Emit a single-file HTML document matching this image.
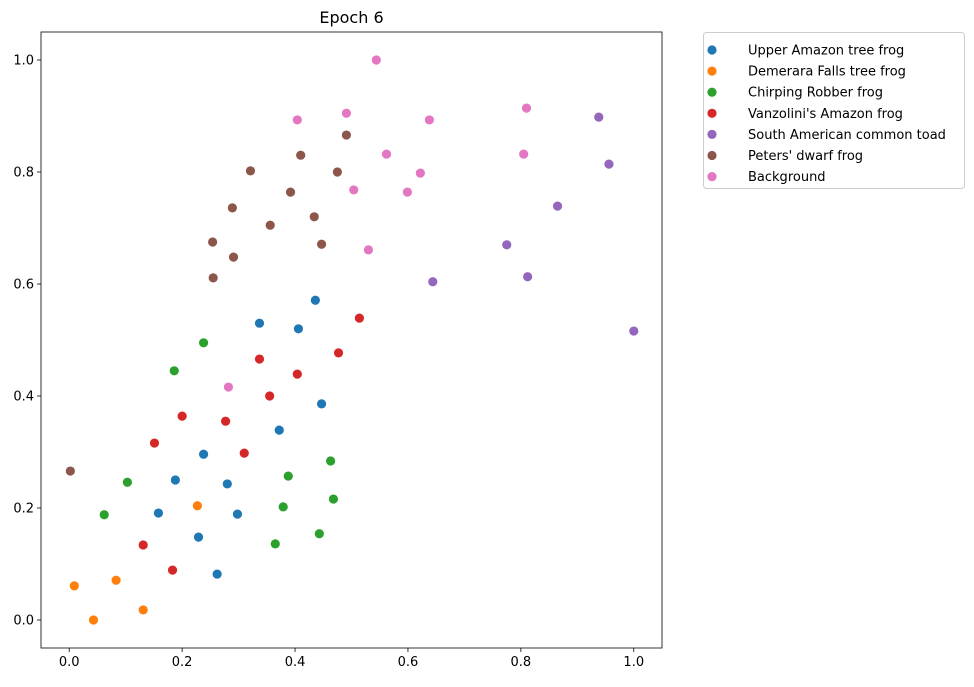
<!DOCTYPE html>
<html><head><meta charset="utf-8"><style>
body{margin:0;background:#fff;}
svg text{font-family:"DejaVu Sans","Liberation Sans",sans-serif;}
</style></head><body>
<svg id="chart" width="974" height="682" xmlns="http://www.w3.org/2000/svg"></svg>
<script>
const seriesNames=["Upper Amazon tree frog","Demerara Falls tree frog","Chirping Robber frog","Vanzolini's Amazon frog","South American common toad","Peters' dwarf frog","Background"];
const colors=["#1f77b4","#ff7f0e","#2ca02c","#d62728","#9467bd","#8c564b","#e377c2"];
const xTicks=[0,0.2,0.4,0.6,0.8,1.0];
const yTicks=[0,0.2,0.4,0.6,0.8,1.0];
const s0x=[0.337,0.436,0.406,0.447,0.372,0.238,0.188,0.280,0.158,0.298,0.229,0.262];
const s0y=[0.530,0.571,0.520,0.386,0.339,0.296,0.250,0.243,0.191,0.189,0.148,0.082];
const s1x=[0.227,0.009,0.083,0.043,0.131];
const s1y=[0.204,0.061,0.071,0.0,0.018];
const s2x=[0.238,0.186,0.103,0.062,0.388,0.463,0.468,0.379,0.365,0.443];
const s2y=[0.495,0.445,0.246,0.188,0.257,0.284,0.216,0.202,0.136,0.154];
const s3x=[0.514,0.477,0.337,0.404,0.200,0.355,0.277,0.151,0.310,0.131,0.183];
const s3y=[0.539,0.477,0.466,0.439,0.364,0.400,0.355,0.316,0.298,0.134,0.089];
const s4x=[0.938,0.956,0.865,0.775,0.812,0.644,1.0];
const s4y=[0.898,0.814,0.739,0.670,0.613,0.604,0.516];
const s5x=[0.491,0.410,0.321,0.475,0.392,0.289,0.434,0.356,0.254,0.447,0.291,0.255,0.002];
const s5y=[0.866,0.830,0.802,0.800,0.764,0.736,0.720,0.705,0.675,0.671,0.648,0.611,0.266];
const s6x=[0.544,0.404,0.491,0.810,0.638,0.562,0.805,0.622,0.504,0.599,0.530,0.282];
const s6y=[1.0,0.893,0.905,0.914,0.893,0.832,0.832,0.798,0.768,0.764,0.661,0.416];
const XS=[s0x,s1x,s2x,s3x,s4x,s5x,s6x], YS=[s0y,s1y,s2y,s3y,s4y,s5y,s6y];

const svg=document.getElementById('chart');
const NS="http://www.w3.org/2000/svg";
const L=41,R=662,T=32,B=648,xmin=-0.05,xmax=1.05,ymin=-0.05,ymax=1.05;
const sx=v=>L+(v-xmin)/(xmax-xmin)*(R-L);
const sy=v=>B-(v-ymin)/(ymax-ymin)*(B-T);
function mk(tag,attrs){const e=document.createElementNS(NS,tag);for(const k in attrs)e.setAttribute(k,attrs[k]);svg.appendChild(e);return e;}

const title=mk('text',{x:(L+R)/2,y:23,'text-anchor':'middle','font-size':16,fill:'#000'});
title.textContent='Epoch 6';



xTicks.forEach(t=>{
  const l=mk('line',{x1:sx(t),x2:sx(t),y1:B,y2:B+4,stroke:'#000','stroke-width':0.8});
  
  
  const tx=mk('text',{x:sx(t),y:B+18,'text-anchor':'middle','font-size':13,fill:'#000'});
  tx.textContent=t.toFixed(1);
  
  
});
yTicks.forEach(t=>{
  const l=mk('line',{x1:L-4,x2:L,y1:sy(t),y2:sy(t),stroke:'#000','stroke-width':0.8});
  
  
  const tx=mk('text',{x:L-7,y:sy(t)+4.5,'text-anchor':'end','font-size':13,fill:'#000'});
  tx.textContent=t.toFixed(1);
  
  
});

XS.forEach((xs,i)=>{
  xs.forEach((x,j)=>{
    const c=mk('circle',{cx:sx(x),cy:sy(YS[i][j]),r:4.6,fill:colors[i]});
    
    
  });
});

const frame=mk('rect',{x:L,y:T,width:R-L,height:B-T,fill:'none',stroke:'#000','stroke-width':0.8});



const lg=mk('rect',{x:703.5,y:32.5,width:261,height:156,rx:3,fill:'#fff',stroke:'#ccc','stroke-width':1});


seriesNames.forEach((n,i)=>{
  const y=50+i*21.1;
  const c=mk('circle',{cx:712,cy:y,r:4.6,fill:colors[i]});
  
  
  const t=mk('text',{x:748,y:y+4.5,'font-size':13,fill:'#000'});
  t.textContent=n;
  
  
});
</script>
</body></html>
